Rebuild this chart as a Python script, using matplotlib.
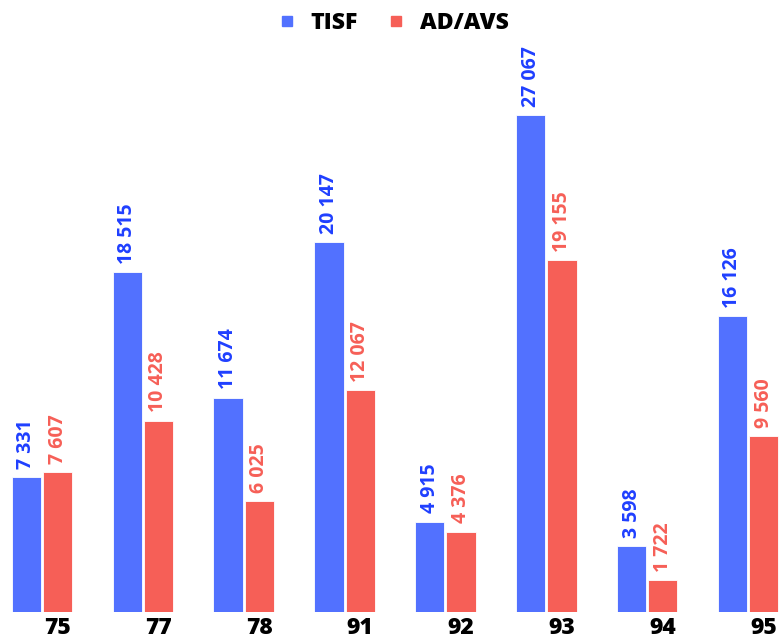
import matplotlib
matplotlib.use("Agg")
import matplotlib.pyplot as plt
from matplotlib.lines import Line2D
import numpy as np

categories = ["75", "77", "78", "91", "92", "93", "94", "95"]
tisf = [7331, 18515, 11674, 20147, 4915, 27067, 3598, 16126]
adavs = [7607, 10428, 6025, 12067, 4376, 19155, 1722, 9560]
series_names = ["TISF", "AD/AVS"]

BLUE = "#5271FF"
RED = "#F65F57"
BLUE_TXT = "#1F3FFF"
RED_TXT = "#F65F57"
FONT = "Open Sans"

fig = plt.figure(figsize=(7.8, 6.42), dpi=100)
ax = fig.add_axes([0, 30 / 642, 1, 612 / 642])

x = np.arange(len(categories))
w = 0.29
off = 0.155
b1 = ax.bar(x - off, tisf, width=w, color=BLUE, edgecolor="white", linewidth=0.6)
b2 = ax.bar(x + off, adavs, width=w, color=RED, edgecolor="white", linewidth=0.6)

def fmt(v):
    return f"{v:,}".replace(",", " ")

for bars, vals, col in ((b1, tisf, BLUE_TXT), (b2, adavs, RED_TXT)):
    for r, v in zip(bars, vals):
        ax.annotate(fmt(v), (r.get_x() + r.get_width() / 2, v), xytext=(0, 6),
                    textcoords="offset points", rotation=90, ha="center", va="bottom",
                    color=col, fontsize=14, fontweight="bold", family=FONT)

ax.set_xlim(-42 / 100.86, (780 - 42) / 100.86)
ax.set_ylim(0, 612 / 0.018362)
ax.set_xticks(x + off)
ax.set_xticklabels(categories, fontsize=16.5, fontweight=800, family=FONT)
ax.tick_params(axis="x", length=0, pad=3)
ax.set_yticks([])
for s in ax.spines.values():
    s.set_visible(False)

handles = [Line2D([], [], marker="s", linestyle="none", markersize=7.5, color=BLUE),
           Line2D([], [], marker="s", linestyle="none", markersize=7.5, color=RED)]
fig.legend(handles, series_names, loc="center", bbox_to_anchor=(392 / 780, 1 - 23 / 642),
           ncol=2, frameon=False, prop={"family": FONT, "weight": 800, "size": 16.6},
           handletextpad=0.55, columnspacing=1.13, handlelength=1.0)

fig.savefig("out.png", dpi=100)
